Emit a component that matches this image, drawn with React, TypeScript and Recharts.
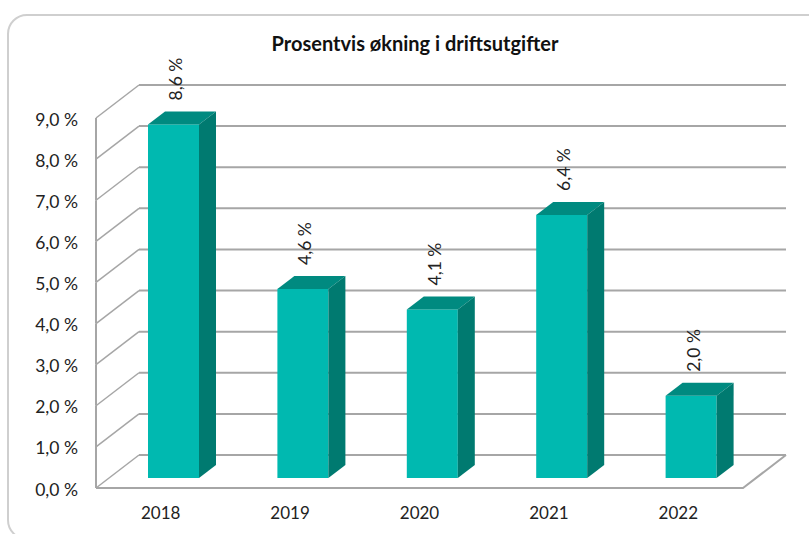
import React from 'react';
import { BarChart, Bar, CartesianGrid, XAxis, YAxis, LabelList } from 'recharts';

const categories = ['2018', '2019', '2020', '2021', '2022'];
const increases = [8.6, 4.6, 4.1, 6.4, 2.0];
const yTicks = [0, 1, 2, 3, 4, 5, 6, 7, 8, 9];

const data = categories.map((year, i) => ({ year, value: increases[i] }));

const FONT = 'Lato, "Open Sans", sans-serif';
const TEXT = '#222222';
const GRID = '#a6a6a6';

// fake 3D: the bars stand on a plane between the front edge and the back wall
const FRONT_DX = -13;
const FRONT_DY = 10;
const BACK_DX = 30;
const BACK_DY = -23;
const DEPTH_X = 17;
const DEPTH_Y = -13;
const PLOT_LEFT = 109;
const PLOT_TOP = 108;
const PLOT_WIDTH = 647;
const PLOT_HEIGHT = 370;
const UNIT = PLOT_HEIGHT / 9;

const pct = (v: number) => `${v.toFixed(1).replace('.', ',')} %`;

function WallLine({ y1: y }: any) {
  const left = PLOT_LEFT + FRONT_DX;
  const right = left + PLOT_WIDTH;
  const isBottom = Math.abs(y - (PLOT_TOP + PLOT_HEIGHT)) < 1;
  const isTop = Math.abs(y - PLOT_TOP) < 1;
  const fy = y + FRONT_DY;
  const by = y + BACK_DY;
  const bx = PLOT_LEFT + BACK_DX;
  return (
    <g>
      <line x1={left} y1={fy} x2={bx} y2={by} stroke={GRID} strokeWidth={1.5} />
      <line x1={bx} y1={by} x2={right + 43} y2={by} stroke={GRID} strokeWidth={2} />
      {isBottom && (
        <polyline points={`${left},${fy} ${right},${fy} ${right + 43},${by}`} fill="none" stroke={GRID} strokeWidth={2} />
      )}
      {!isTop && <line x1={left} y1={fy} x2={left} y2={fy - UNIT} stroke={GRID} strokeWidth={2} />}
    </g>
  );
}

function PctTick({ y, payload }: any) {
  return (
    <text x={78} y={y + FRONT_DY + 1} textAnchor="end" dominantBaseline="central" fontFamily={FONT} fontSize={17.5} fill={TEXT}>
      {pct(payload.value)}
    </text>
  );
}

function YearTick({ x, payload }: any) {
  return (
    <text x={x + FRONT_DX} y={512} textAnchor="middle" dominantBaseline="central" fontFamily={FONT} fontSize={17} fill={TEXT}>
      {payload.value}
    </text>
  );
}

function Bar3D({ x, y, width, height }: any) {
  const r = x + width;
  const b = y + height;
  return (
    <g>
      <rect x={x} y={y} width={width} height={height} fill="#00b9b0" />
      <polygon
        points={`${x},${y} ${x + DEPTH_X},${y + DEPTH_Y} ${r + DEPTH_X},${y + DEPTH_Y} ${r},${y}`}
        fill="#008a80"
      />
      <polygon
        points={`${r},${y} ${r + DEPTH_X},${y + DEPTH_Y} ${r + DEPTH_X},${b + DEPTH_Y} ${r},${b}`}
        fill="#007a70"
      />
    </g>
  );
}

function ValueLabel({ x, y, width, value }: any) {
  const cx = x + width / 2 + 2;
  const cy = y - 24;
  return (
    <text
      x={cx}
      y={cy}
      transform={`rotate(-90 ${cx} ${cy})`}
      dominantBaseline="central"
      fontFamily={FONT}
      fontSize={17.5}
      fill={TEXT}
    >
      {pct(value)}
    </text>
  );
}

export default function App() {
  return (
    <div style={{ position: 'fixed', left: 0, top: 0, width: 809, height: 534, overflow: 'hidden', background: '#fff' }}>
      <div
        style={{
          position: 'absolute',
          left: 7,
          top: 14,
          width: 820,
          height: 526,
          border: '2px solid #cfcfcf',
          borderRadius: 20,
          boxSizing: 'border-box',
        }}
      />
      <div
        style={{
          position: 'absolute',
          left: 0,
          width: 830,
          top: 31,
          textAlign: 'center',
          fontFamily: FONT,
          fontWeight: 700,
          fontSize: 20,
          lineHeight: '24px',
          color: '#111',
        }}
      >
        Prosentvis økning i driftsutgifter
      </div>
      <BarChart
        width={809}
        height={534}
        data={data}
        margin={{ top: PLOT_TOP, right: 809 - PLOT_LEFT - PLOT_WIDTH, bottom: 55, left: PLOT_LEFT - 1 }}
        style={{ position: 'absolute', left: 0, top: 0 }}
      >
        <CartesianGrid vertical={false} syncWithTicks horizontal={<WallLine />} />
        <YAxis
          type="number"
          domain={[0, 9]}
          ticks={yTicks}
          interval={0}
          width={1}
          axisLine={false}
          tickLine={false}
          tick={<PctTick />}
        />
        <XAxis dataKey="year" height={1} axisLine={false} tickLine={false} interval={0} tick={<YearTick />} />
        <Bar dataKey="value" barSize={51} isAnimationActive={false} shape={<Bar3D />}>
          <LabelList dataKey="value" content={<ValueLabel />} />
        </Bar>
      </BarChart>
    </div>
  );
}
